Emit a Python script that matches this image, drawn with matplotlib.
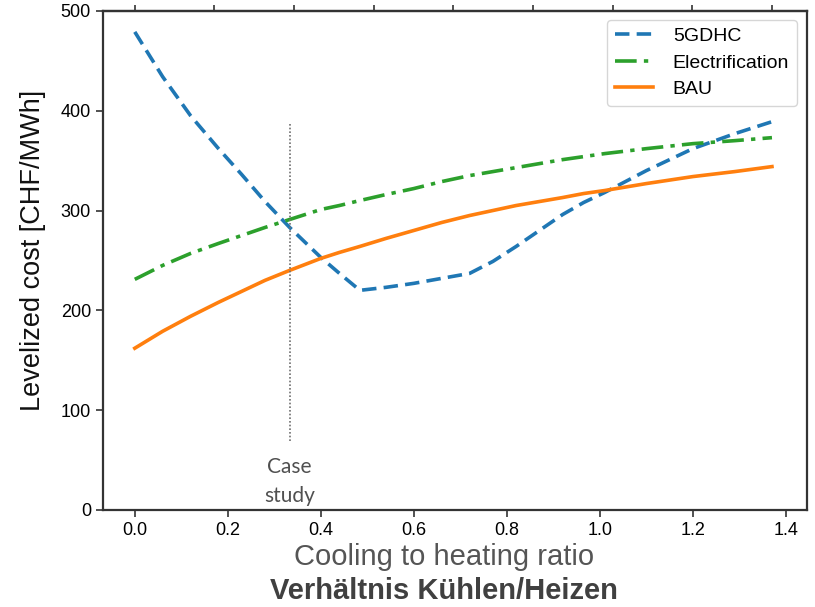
import matplotlib.pyplot as plt
import numpy as np

plt.rcParams['font.family'] = ['Liberation Sans', 'DejaVu Sans']

# Daten
ratio = [0.0, 0.06, 0.12, 0.18, 0.23, 0.28, 0.333, 0.4, 0.44, 0.484, 0.54, 0.6,
         0.66, 0.72, 0.77, 0.82, 0.87, 0.92, 0.965, 1.01, 1.1, 1.2, 1.29, 1.37]
cost_5gdhc = [479, 434, 395, 362, 336, 309, 283, 253, 237, 220, 223, 227,
              232, 237, 249, 264, 280, 296, 308, 318, 340, 362, 377, 389]
cost_elec = [231, 245, 257, 267, 275, 283, 291, 301, 305, 310, 316, 322,
             329, 335, 339, 343, 347, 351, 354, 357, 362, 367, 370, 373]
cost_bau = [162, 179, 194, 208, 219, 230, 240, 252, 258, 264, 272, 280,
            288, 295, 300, 305, 309, 313, 317, 320, 327, 334, 339, 344]

case_ratio = 0.333
case_range = (69, 387)

fig = plt.figure(figsize=(8.15, 6.07), dpi=100)
ax = fig.add_axes([0.126, 0.160, 0.864, 0.822])

ax.plot(ratio, cost_5gdhc, color='#1f77b4', ls=(0, (4, 2)), lw=2.6, label='5GDHC')
ax.plot(ratio, cost_elec, color='#2ca02c', ls=(0, (6, 2, 1.2, 2)), lw=2.6, label='Electrification')
ax.plot(ratio, cost_bau, color='#ff7f0e', ls='-', lw=2.6, label='BAU')

# Fallstudie
ax.vlines(case_ratio, *case_range, colors='#707070', linestyles=(0, (1, 1.2)), lw=1.2)
ax.text(case_ratio, 37, 'Case', ha='center', va='baseline', fontsize=15,
        family='Lato', color='#505050')
ax.text(case_ratio, 7.5, 'study', ha='center', va='baseline', fontsize=15,
        family='Lato', color='#505050')

ax.set_xlim(-0.069, 1.445)
ax.set_ylim(0, 500)
ax.set_xticks(np.arange(0, 1.41, 0.2))
ax.set_yticks(np.arange(0, 501, 100))
ax.tick_params(labelsize=13, length=5, width=1.2, color='#333333')

top = ax.secondary_xaxis('top')
top.set_xticks(np.linspace(0, ratio[-1], 9))
top.set_xticklabels([])
top.tick_params(length=4, width=1.2, color='#333333')

for s in list(ax.spines.values()) + [top.spines['top']]:
    s.set_color('#333333')
    s.set_linewidth(1.6)

ax.legend(loc='upper right', fontsize=14, handlelength=2.0, borderpad=0.4,
          labelspacing=0.45, handletextpad=1.0, borderaxespad=0,
          bbox_to_anchor=(0.986, 0.982))

fig.text(0.040, 0.588, 'Levelized cost [CHF/MWh]', rotation=90, ha='center',
         va='center', fontsize=19.5, color='#111111')
fig.text(0.545, 0.082, 'Cooling to heating ratio', ha='center', va='center',
         fontsize=21, color='#555555')
fig.text(0.545, 0.026, 'Verhältnis Kühlen/Heizen', ha='center', va='center',
         fontsize=21, fontweight='bold', color='#404040')

fig.savefig('out.png', dpi=100)
